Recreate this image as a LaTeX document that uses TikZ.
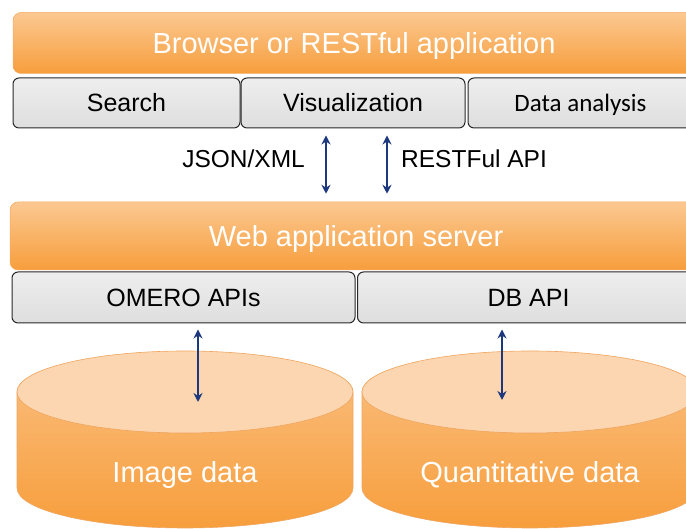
\documentclass[tikz,border=0pt]{standalone}
\usepackage{fontspec}
\setmainfont{Liberation Sans}
\newfontfamily\calibfont{Carlito}
\usetikzlibrary{arrows.meta}

\definecolor{barlight}{RGB}{251,200,145}
\definecolor{bardark}{RGB}{247,158,60}
\definecolor{barline}{RGB}{245,170,100}
\definecolor{boxlight}{RGB}{238,238,238}
\definecolor{boxdark}{RGB}{222,222,222}
\definecolor{boxline}{RGB}{40,40,40}
\definecolor{cyltop}{RGB}{251,214,176}
\definecolor{cylmid}{RGB}{250,192,130}
\definecolor{cylline}{RGB}{240,165,95}
\definecolor{arrowblue}{RGB}{30,56,125}

\begin{document}
\begin{tikzpicture}[x=1pt,y=1pt,
    bar/.style={rounded corners=8pt, top color=barlight, bottom color=bardark,
        draw=barline, line width=0.5pt, text=white, inner sep=0pt,
        text height=21pt, text depth=0pt,
        font=\fontsize{29}{32}\selectfont},
    graybox/.style={rounded corners=6pt, top color=boxlight, bottom color=boxdark,
        draw=boxline, line width=1pt, inner sep=0pt, minimum height=50,
        text height=18pt, text depth=0pt,
        font=\fontsize{25}{28}\selectfont},
    biarrow/.style={{Stealth[length=9pt,width=9pt,inset=3pt]}-{Stealth[length=9pt,width=9pt,inset=3pt]},
        arrowblue, line width=2pt},
    apilabel/.style={font=\fontsize{24.5}{27}\selectfont, inner sep=0pt},
    cyltext/.style={text=white, font=\fontsize{29}{32}\selectfont, inner sep=0pt,
        text height=21pt, text depth=0pt}]

    \useasboundingbox (0,0) rectangle (686,529);
    \clip (0,0) rectangle (686,529);

    % === Client layer ===
    \node[bar, minimum width=682, minimum height=61] (browser) at (354,486)
        {Browser or RESTful application};
    \node[graybox, minimum width=227] (search) at (126.5,426) {Search};
    \node[graybox, minimum width=224] (visual) at (353,426) {Visualization};
    \node[graybox, minimum width=225, font=\calibfont\fontsize{25}{28}\selectfont]
        (analysis) at (580.5,426) {Data analysis};

    % === Server layer ===
    \node[bar, minimum width=692, minimum height=68] (server) at (356,293)
        {Web application server};
    \node[graybox, minimum width=343, minimum height=51] (omero) at (183.5,231.5) {OMERO APIs};
    \node[graybox, minimum width=342, minimum height=51] (dbapi) at (528.5,231.5) {DB API};

    % Arrows between the layers
    \coordinate (jsonx) at (326,0);
    \coordinate (restx) at (387,0);
    \draw[biarrow, shorten <=7pt, shorten >=8pt] (jsonx |- visual.south) -- (jsonx |- server.north);
    \draw[biarrow, shorten <=7pt, shorten >=8pt] (restx |- visual.south) -- (restx |- server.north);
    \node[apilabel, anchor=east] (json) at (305,370) {JSON/XML};
    \node[apilabel, anchor=west] (rest) at (401,370) {RESTFul API};

    % === Data layer (cylinders) ===
    \foreach \cx/\nm in {185/img, 530/quant}{
        \shade[top color=cylmid, bottom color=bardark, draw=cylline, line width=0.6pt]
            (\cx-168,137) -- (\cx-168,41)
            arc[start angle=180, end angle=360, x radius=168, y radius=40]
            -- (\cx+168,137)
            arc[start angle=0, end angle=180, x radius=168, y radius=40] -- cycle;
        \filldraw[fill=cyltop, draw=cylline, line width=0.6pt]
            (\cx,137) ellipse[x radius=168, y radius=41];
    }
    \node[cyltext] (imgdata) at (185,57) {Image data};
    \node[cyltext] (quantdata) at (530,57) {Quantitative data};

    % Arrows into the stores
    \coordinate (imgtop) at (198,127);
    \coordinate (quanttop) at (502,129);
    \draw[biarrow, shorten <=6pt] (imgtop |- omero.south) -- (imgtop);
    \draw[biarrow, shorten <=6pt] (quanttop |- dbapi.south) -- (quanttop);

\end{tikzpicture}
\end{document}
